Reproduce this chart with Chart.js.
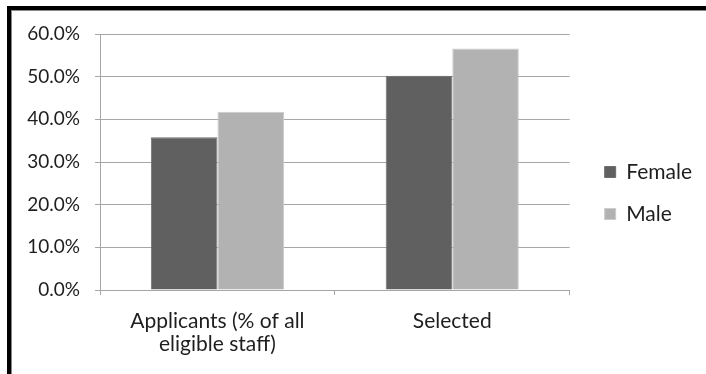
<!DOCTYPE html>
<html>
<head>
<meta charset="utf-8">
<script src="https://cdn.jsdelivr.net/npm/chart.js@4/dist/chart.umd.min.js"></script>
<style>
  html, body { margin: 0; padding: 0; background: #fff; }
  body { width: 706px; height: 374px; position: relative; overflow: hidden; }
  #frame {
    position: absolute; left: 7px; top: 6px; right: 0; bottom: 0;
    border-top: 4px solid #000; border-left: 4px solid #000;
    box-shadow: inset 1px 1px 0 #888;
  }
  #wrap { position: absolute; left: 11px; top: 10px; width: 695px; height: 364px; }
</style>
</head>
<body>
<div id="frame"></div>
<div id="wrap"><canvas id="chart"></canvas></div>
<script>
// === Data ===
const CATEGORIES = [['Applicants (% of all', 'eligible staff)'], 'Selected'];
const FEMALE = [35.8, 50.2];
const MALE = [41.8, 56.6];
const Y_MIN = 0, Y_MAX = 60, Y_STEP = 10;

const FAMILY = 'Lato, "Open Sans", sans-serif';
const TICK_FONT = { family: FAMILY, size: 19 };
const LABEL_FONT = { family: FAMILY, size: 21, lineHeight: 1.1 };
const GRID = '#a6a6a6';
const TEXT = '#1e1e1e';

new Chart(document.getElementById('chart'), {
  type: 'bar',
  data: {
    labels: CATEGORIES,
    datasets: [
      { label: 'Female', data: FEMALE, backgroundColor: '#606060', borderColor: '#6e6e6e', borderWidth: 1 },
      { label: 'Male', data: MALE, backgroundColor: '#b2b2b2', borderColor: '#cccccc', borderWidth: 1 }
    ]
  },
  options: {
    responsive: true,
    maintainAspectRatio: false,
    animation: false,
    datasets: { bar: { categoryPercentage: 0.567, barPercentage: 1 } },
    layout: { padding: { left: 1, top: 13, right: 8, bottom: 11 } },
    scales: {
      x: {
        grid: { drawOnChartArea: false, drawTicks: true, tickLength: 5, color: GRID, offset: true },
        border: { color: GRID },
        ticks: { color: TEXT, font: LABEL_FONT, padding: 15, maxRotation: 0 },
        afterFit: (s) => {
          s.height = 73;
          s.paddingLeft = 0;
          s.paddingRight = 0;
        }
      },
      y: {
        min: Y_MIN,
        max: Y_MAX,
        grid: { color: GRID, tickLength: 5 },
        border: { color: GRID },
        ticks: {
          stepSize: Y_STEP,
          color: TEXT,
          font: TICK_FONT,
          padding: 15,
          callback: (v) => v.toFixed(1) + '%'
        },
        afterFit: (s) => {
          s.width = 88;
          s.paddingTop = 24;
          s.paddingBottom = 0;
        }
      },
      // empty spacer between plot and legend
      gap: {
        position: 'right',
        display: true,
        grid: { display: false },
        border: { display: false },
        ticks: { display: false },
        afterFit: (s) => { s.width = 14; }
      }
    },
    plugins: {
      legend: {
        position: 'right',
        labels: { boxWidth: 11, boxHeight: 11, padding: 21, color: TEXT, font: { family: FAMILY, size: 21 } }
      },
      tooltip: { enabled: false }
    }
  }
});
</script>
</body>
</html>
